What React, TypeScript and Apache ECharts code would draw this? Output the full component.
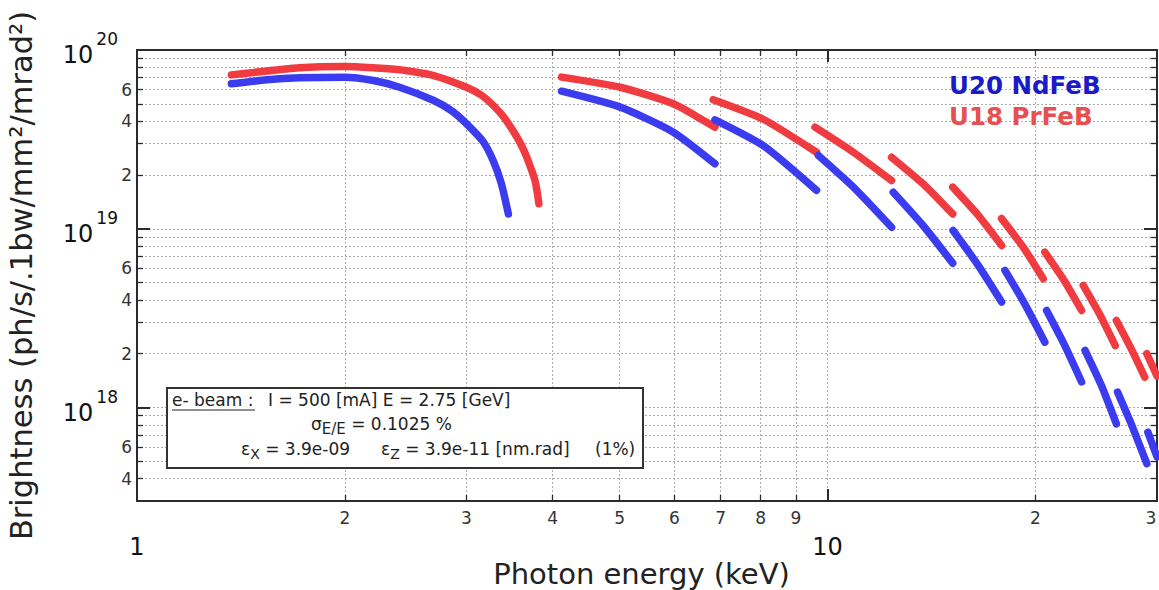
import React, { useEffect, useRef } from 'react';
import * as echarts from 'echarts';

const FONT = '"DejaVu Sans", Verdana, sans-serif';

// ---- Data: [photon energy (keV), brightness] per harmonic segment ----
const U20_H1: [number, number][] = [[1.37, 6.47e19], [1.54, 6.81e19], [1.72, 6.99e19], [2.0, 7.05e19], [2.2, 6.75e19], [2.4, 6.19e19], [2.69, 5.22e19], [2.86, 4.55e19], [3.0, 3.87e19], [3.17, 3.08e19], [3.28, 2.4e19], [3.37, 1.79e19], [3.45, 1.21e19]];
const U20_H3: [number, number][] = [[4.12, 5.88e19], [5.01, 4.79e19], [5.98, 3.47e19], [6.87, 2.31e19]];
const U20_H5: [number, number][] = [[6.87, 4.07e19], [8.07, 2.92e19], [9.64, 1.64e19]];
const U20_H7: [number, number][] = [[9.7, 2.57e19], [10.9, 1.71e19], [12.38, 1.02e19]];
const U20_H9: [number, number][] = [[12.45, 1.6e19], [13.76, 1.04e19], [15.18, 6.42e18]];
const U20_H11: [number, number][] = [[15.2, 9.78e18], [16.5, 6.3e18], [17.87, 3.89e18]];
const U20_H13: [number, number][] = [[18.07, 5.85e18], [19.3, 3.8e18], [20.64, 2.32e18]];
const U20_H15: [number, number][] = [[20.76, 3.49e18], [22.0, 2.27e18], [23.33, 1.39e18]];
const U20_H17: [number, number][] = [[23.6, 2.09e18], [24.9, 1.34e18], [26.2, 8.1e17]];
const U20_H19: [number, number][] = [[26.3, 1.22e18], [27.6, 7.9e17], [29.0, 4.85e17]];
const U20_H21: [number, number][] = [[29.1, 7.28e17], [30.0, 5.3e17]];

const U18_H1: [number, number][] = [[1.37, 7.26e19], [1.72, 7.95e19], [2.0, 8.09e19], [2.4, 7.75e19], [2.69, 7.2e19], [3.0, 6.19e19], [3.15, 5.6e19], [3.28, 4.9e19], [3.4, 4.2e19], [3.51, 3.5e19], [3.6, 2.95e19], [3.67, 2.5e19], [3.77, 1.86e19], [3.82, 1.38e19]];
const U18_H3: [number, number][] = [[4.12, 7.05e19], [5.01, 6.19e19], [5.98, 5.0e19], [6.87, 3.7e19]];
const U18_H5: [number, number][] = [[6.83, 5.27e19], [8.07, 4.1e19], [9.64, 2.68e19]];
const U18_H7: [number, number][] = [[9.59, 3.7e19], [10.9, 2.68e19], [12.38, 1.86e19]];
const U18_H9: [number, number][] = [[12.38, 2.51e19], [13.76, 1.78e19], [15.18, 1.21e19]];
const U18_H11: [number, number][] = [[15.18, 1.71e19], [16.5, 1.2e19], [17.87, 8.07e18]];
const U18_H13: [number, number][] = [[17.87, 1.14e19], [19.2, 7.9e18], [20.53, 5.25e18]];
const U18_H15: [number, number][] = [[20.64, 7.4e18], [22.0, 5.15e18], [23.33, 3.49e18]];
const U18_H17: [number, number][] = [[23.46, 4.82e18], [24.8, 3.3e18], [26.1, 2.22e18]];
const U18_H19: [number, number][] = [[26.2, 3.07e18], [27.5, 2.15e18], [28.8, 1.48e18]];
const U18_H21: [number, number][] = [[29.0, 2.0e18], [30.0, 1.5e18]];

const U20_SEGMENTS = [U20_H1, U20_H3, U20_H5, U20_H7, U20_H9, U20_H11, U20_H13, U20_H15, U20_H17, U20_H19, U20_H21];
const U18_SEGMENTS = [U18_H1, U18_H3, U18_H5, U18_H7, U18_H9, U18_H11, U18_H13, U18_H15, U18_H17, U18_H19, U18_H21];

const SERIES_NAMES = ['U20 NdFeB', 'U18 PrFeB'];
const LINE_COLORS = ['#3b3cf0', '#f03c40'];
const LEGEND_COLORS = ['#1a1ac8', '#e65050'];

// ---- Axis ticks / labels ----
const X_MIN = 1;
const X_MAX = 30;
const X_MINOR = [2, 3, 4, 5, 6, 7, 8, 9, 20];
const X_MINOR_LABELS = [2, 3, 4, 5, 6, 7, 8, 9, 20, 29.4];
const X_MAJOR = [1, 10];
const Y_MIN = 3e17;
const Y_MAX = 1e20;
const Y_MINOR = [4e17, 5e17, 6e17, 7e17, 8e17, 9e17, 2e18, 3e18, 4e18, 5e18, 6e18, 7e18, 8e18, 9e18, 2e19, 3e19, 4e19, 5e19, 6e19, 7e19, 8e19, 9e19];
const Y_MINOR_LABELS = [4e17, 6e17, 2e18, 4e18, 6e18, 2e19, 4e19, 6e19];
const Y_MAJOR = [1e18, 1e19];
const Y_MAJOR_LABELS = [1e18, 1e19, 9.9999e19];

const leadDigit = (v: number) => String(Math.round(v / Math.pow(10, Math.floor(Math.log10(v) + 1e-9))));

const AXIS_COLOR = '#2b2b2b';
const GRID_LINE = { show: true, lineStyle: { type: [2, 2], color: '#ababab', width: 1 } };

function xAxisDef(position: string, ticks: number[], len: number, extra: any = {}) {
  return {
    type: 'log', logBase: 10, min: X_MIN, max: X_MAX, position, gridIndex: 0,
    axisLine: { show: true, onZero: false, lineStyle: { color: AXIS_COLOR, width: 2 } },
    axisTick: { show: true, inside: true, length: len, customValues: ticks, lineStyle: { color: AXIS_COLOR, width: len > 8 ? 2 : 1.3 } },
    axisLabel: { show: false },
    splitLine: { show: false },
    minorTick: { show: false }, minorSplitLine: { show: false },
    ...extra,
  };
}
function yAxisDef(position: string, ticks: number[], len: number, extra: any = {}) {
  return {
    type: 'log', logBase: 10, min: Y_MIN, max: Y_MAX, position, gridIndex: 0,
    axisLine: { show: true, onZero: false, lineStyle: { color: AXIS_COLOR, width: 2 } },
    axisTick: { show: true, inside: true, length: len, customValues: ticks, lineStyle: { color: AXIS_COLOR, width: len > 8 ? 2 : 1.3 } },
    axisLabel: { show: false },
    splitLine: { show: false },
    minorTick: { show: false }, minorSplitLine: { show: false },
    ...extra,
  };
}

export default function App() {
  const ref = useRef<HTMLDivElement>(null);
  useEffect(() => {
    if (!ref.current) return;
    const chart = echarts.init(ref.current, null, { renderer: 'svg' });

    const series: any[] = [];
    [U18_SEGMENTS, U20_SEGMENTS].forEach((segs, k) => {
      const idx = k === 0 ? 1 : 0;
      segs.forEach((seg) => {
        series.push({
          type: 'line', name: SERIES_NAMES[idx], data: seg,
          xAxisIndex: 0, yAxisIndex: 0,
          showSymbol: false, symbol: 'none',
          smooth: 0.2,
          lineStyle: { width: 7.5, color: LINE_COLORS[idx], cap: 'round', join: 'round' },
          itemStyle: { color: LINE_COLORS[idx] },
          silent: true, z: 3,
        });
      });
    });

    const option: any = {
      animation: false,
      backgroundColor: '#ffffff',
      grid: { left: 137, right: 2, top: 50, bottom: 89, containLabel: false, outerBoundsMode: 'none' },
      legend: {
        orient: 'vertical', left: 939, top: 68, icon: 'none', itemWidth: 0, itemHeight: 24, itemGap: 6,
        selectedMode: false,
        textStyle: { fontSize: 24.5, fontWeight: 'bold', fontFamily: FONT },
        data: SERIES_NAMES.map((n, i) => ({ name: n, textStyle: { color: LEGEND_COLORS[i], fontSize: 24.5, fontWeight: 'bold', fontFamily: FONT } })),
      },
      xAxis: [
        xAxisDef('bottom', X_MINOR, 6, {
          axisLabel: { show: true, customValues: X_MINOR_LABELS, formatter: (v: number) => leadDigit(v), fontSize: 17, color: '#333', fontFamily: FONT, margin: 8, showMinLabel: true, showMaxLabel: true },
          splitLine: GRID_LINE,
          name: 'Photon energy (keV)', nameLocation: 'middle', nameGap: 58, nameMoveOverlap: false,
          nameTextStyle: { fontSize: 29, color: '#222', fontFamily: FONT, padding: [0, 11, 0, 0] },
        }),
        xAxisDef('bottom', X_MAJOR, 12, {
          axisLine: { show: false, onZero: false },
          axisLabel: { show: true, customValues: X_MAJOR, formatter: (v: number) => String(Math.round(v)), fontSize: 24, color: '#111', fontFamily: FONT, margin: 34, showMinLabel: true, showMaxLabel: true },
          splitLine: GRID_LINE,
        }),
        xAxisDef('top', X_MINOR, 6),
        xAxisDef('top', X_MAJOR, 12, { axisLine: { show: false, onZero: false } }),
      ],
      yAxis: [
        yAxisDef('left', Y_MINOR, 6, {
          axisLabel: { show: true, customValues: Y_MINOR_LABELS, formatter: (v: number) => leadDigit(v), fontSize: 17, color: '#333', fontFamily: FONT, margin: 5, showMinLabel: true, showMaxLabel: true },
          splitLine: GRID_LINE,
          name: 'Brightness (ph/s/.1bw/mm²/mrad²)', nameLocation: 'middle', nameGap: 100, nameMoveOverlap: false,
          nameTextStyle: { fontSize: 30.5, color: '#222', fontFamily: FONT },
        }),
        yAxisDef('left', Y_MAJOR, 13, {
          axisLine: { show: false, onZero: false },
          axisLabel: {
            show: true, customValues: Y_MAJOR_LABELS, margin: 19, showMinLabel: true, showMaxLabel: true,
            padding: [10, 0, 0, 0],
            formatter: (v: number) => `{b|10}{s|${Math.round(Math.log10(v))}}`,
            rich: {
              b: { fontSize: 24, color: '#111', fontFamily: FONT },
              s: { fontSize: 17, color: '#111', fontFamily: FONT, padding: [0, 0, 32, 3] },
            },
          },
          splitLine: GRID_LINE,
        }),
        yAxisDef('right', Y_MINOR, 6),
        yAxisDef('right', Y_MAJOR, 13, { axisLine: { show: false, onZero: false } }),
      ],
      series,
      graphic: [
        { type: 'rect', z: 100, shape: { x: 167, y: 388, width: 476, height: 80 }, style: { fill: '#ffffff', stroke: '#333', lineWidth: 2 } },
        { type: 'text', z: 101, x: 172, y: 400, style: { text: 'e- beam :', fontSize: 17, fontFamily: FONT, fill: '#222', verticalAlign: 'middle' } },
        { type: 'line', z: 101, shape: { x1: 172, y1: 410, x2: 255, y2: 410 }, style: { stroke: '#222', lineWidth: 1.2 } },
        { type: 'text', z: 101, x: 268, y: 400, style: { text: 'I = 500 [mA] E = 2.75 [GeV]', fontSize: 17, fontFamily: FONT, fill: '#222', verticalAlign: 'middle' } },
        {
          type: 'text', z: 101, x: 311, y: 424,
          style: {
            text: '{g|σ}{s|E/E}{t| = 0.1025 %}', verticalAlign: 'middle', fill: '#222',
            rich: { g: { fontSize: 17, fontFamily: FONT, fill: '#222' }, s: { fontSize: 15, fontFamily: FONT, fill: '#222', padding: [10, 0, 0, 0] }, t: { fontSize: 17, fontFamily: FONT, fill: '#222' } },
          },
        },
        {
          type: 'text', z: 101, x: 241, y: 449,
          style: {
            text: '{g|ε}{s|X}{t| = 3.9e-09}', verticalAlign: 'middle', fill: '#222',
            rich: { g: { fontSize: 17, fontFamily: FONT, fill: '#222' }, s: { fontSize: 14, fontFamily: FONT, fill: '#222', padding: [10, 0, 0, 0] }, t: { fontSize: 17, fontFamily: FONT, fill: '#222' } },
          },
        },
        {
          type: 'text', z: 101, x: 381, y: 449,
          style: {
            text: '{g|ε}{s|Z}{t| = 3.9e-11 [nm.rad]}', verticalAlign: 'middle', fill: '#222',
            rich: { g: { fontSize: 17, fontFamily: FONT, fill: '#222' }, s: { fontSize: 14, fontFamily: FONT, fill: '#222', padding: [10, 0, 0, 0] }, t: { fontSize: 17, fontFamily: FONT, fill: '#222' } },
          },
        },
        { type: 'text', z: 101, x: 595, y: 449, style: { text: '(1%)', fontSize: 17, fontFamily: FONT, fill: '#222', verticalAlign: 'middle' } },
      ],
    };
    chart.setOption(option);
    return () => chart.dispose();
  }, []);
  return <div ref={ref} style={{ position: 'fixed', left: 0, top: 0, width: 1159, height: 590, background: '#fff' }} />;
}
